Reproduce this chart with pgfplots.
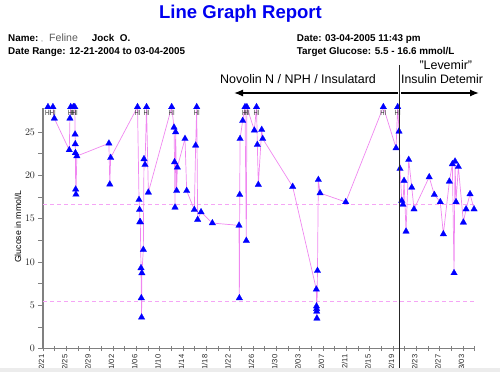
\documentclass[border=0pt]{standalone}
\usepackage{fontspec}
\setmainfont{Liberation Sans}
\newfontfamily\narrowfont[FakeStretch=0.78]{Liberation Sans}
\usepackage{pgfplots}
\usepackage{pgfplotstable}
\pgfplotsset{compat=1.18}
\usetikzlibrary{arrows.meta}
\definecolor{lineviolet}{RGB}{240,135,240}
\definecolor{dashpink}{RGB}{245,165,245}
\definecolor{axisgray}{RGB}{128,128,128}
\definecolor{markblue}{RGB}{0,0,255}
\definecolor{titleblue}{RGB}{0,0,240}
\definecolor{stripgray}{RGB}{236,236,236}

\pgfplotstableread{
day val
0.85 27.9
1.70 27.9
1.94 26.58
4.50 22.93
4.62 26.58
4.75 27.9
5.20 27.9
5.45 27.9
5.50 24.74
5.53 23.62
5.56 22.60
5.60 18.39
5.65 17.80
5.80 22.23
11.30 23.70
11.45 18.97
11.60 22.04
16.20 27.9
16.46 17.19
16.55 16.04
16.60 14.62
16.68 14.62
16.80 9.31
16.85 5.85
16.90 3.62
16.95 8.73
17.20 11.43
17.31 21.89
17.49 21.23
17.75 27.9
18.06 18.04
22.06 27.9
22.46 25.54
22.55 21.54
22.63 16.31
22.74 25.00
22.91 18.23
23.03 20.93
24.34 24.23
24.63 18.23
25.94 16.04
26.17 23.46
26.35 27.9
26.51 14.89
27.09 15.77
29.03 14.50
33.60 14.23
33.66 5.85
33.72 17.77
33.78 24.23
34.23 26.31
34.63 27.9
34.85 12.47
34.95 27.9
36.23 25.20
36.60 27.9
36.74 23.54
36.91 18.93
37.49 25.27
37.66 24.23
42.80 18.70
46.85 6.85
46.88 4.90
46.90 4.60
46.92 4.30
46.95 3.50
47.05 9.00
47.20 19.50
47.49 17.96
51.90 16.93
58.34 27.9
60.52 23.16
60.80 27.9
61.03 25.08
61.20 20.77
61.50 17.09
61.70 16.63
61.89 19.39
62.23 13.54
62.69 21.81
63.21 18.61
63.60 16.10
66.20 19.81
67.08 17.77
68.10 16.93
68.63 13.23
69.66 19.31
70.17 21.31
70.46 8.74
70.63 21.62
70.80 16.93
71.20 21.00
72.06 14.58
72.52 16.10
73.20 17.85
73.89 16.10
}\glucosedata

\pgfplotstableread{
day val
0.85 27.9
1.70 27.9
4.75 27.9
5.20 27.9
5.45 27.9
16.20 27.9
17.75 27.9
22.06 27.9
26.35 27.9
34.63 27.9
34.95 27.9
36.60 27.9
58.34 27.9
60.80 27.9
}\hidata

\begin{document}
\begin{tikzpicture}
\path[use as bounding box] (0,0) rectangle (500bp,372bp);
\begin{axis}[
  at={(43bp,23.3bp)}, anchor=south west,
  scale only axis, width=431.7bp, height=240.9bp,
  xmin=0, xmax=74, ymin=0, ymax=27.8,
  clip=false,
  axis x line*=bottom, axis y line*=left,
  axis line style={axisgray, line width=1.2bp, -},
  xtick={0,4,...,72}, minor xtick={2,6,...,74},
  xticklabels={12/21,12/25,12/29,01/02,01/06,01/10,01/14,01/18,01/22,01/26,01/30,02/03,02/07,02/11,02/15,02/19,02/23,02/27,03/03},
  ytick={0,5,...,25}, minor ytick={2.5,7.5,...,22.5},
  tick align=center,
  major tick length=5bp, minor tick length=5bp,
  tick style={axisgray, line width=0.8bp},
  ytick style={xshift=-2.5bp},
  xticklabel style={font=\fontsize{7.6}{7.6}\selectfont, rotate=90, anchor=base east, text=black!85, yshift=-1bp},
  yticklabel style={font=\narrowfont\fontsize{9.6}{9.6}\selectfont, text=black!85, xshift=-2bp},
]
\addplot[dashpink, line width=0.9bp, dash pattern=on 4bp off 3bp, forget plot] coordinates {(0,16.6) (74,16.6)};
\addplot[dashpink, line width=0.9bp, dash pattern=on 4bp off 3bp, forget plot] coordinates {(0,5.5) (74,5.5)};
\addplot[draw=none, nodes near coords={HI},
  every node near coord/.style={font=\narrowfont\fontsize{7.6}{7.6}\selectfont, text=black!80, anchor=center, yshift=-6bp, inner sep=0pt}]
  table[x=day,y=val]{\hidata};
\addplot[lineviolet, line width=0.7bp, mark=triangle*, mark size=3.8bp,
  mark options={solid, fill=markblue, draw=markblue, line width=0.2bp}]
  table[x=day,y=val]{\glucosedata};
\end{axis}
% header
\node[anchor=base, inner sep=0, font=\bfseries\fontsize{18.6}{18.6}\selectfont, text=titleblue] at (240.5bp,353.7bp) {Line Graph Report};
\node[anchor=base west, inner sep=0, font=\bfseries\fontsize{9.9}{9.9}\selectfont] at (8bp,330.3bp) {Name:};
\node[anchor=base west, inner sep=0, font=\fontsize{7}{7}\selectfont, text=black!55] at (41bp,330.3bp) {,};
\node[anchor=base west, inner sep=0, font=\fontsize{10.6}{10.6}\selectfont, text=black!65] at (49bp,330.3bp) {Feline};
\node[anchor=base west, inner sep=0, font=\bfseries\fontsize{9.9}{9.9}\selectfont] at (91.7bp,330.3bp) {Jock\ \ O.};
\node[anchor=base west, inner sep=0, font=\bfseries\fontsize{9.9}{9.9}\selectfont] at (8bp,317.7bp) {Date Range: 12-21-2004 to 03-04-2005};
\node[anchor=base west, inner sep=0, font=\bfseries\fontsize{9.9}{9.9}\selectfont] at (296.7bp,330.3bp) {Date: 03-04-2005 11:43 pm};
\node[anchor=base west, inner sep=0, font=\bfseries\fontsize{9.9}{9.9}\selectfont] at (296.7bp,317.7bp) {Target Glucose: 5.5 - 16.6 mmol/L};
% annotations
\node[anchor=base west, inner sep=0, font=\fontsize{12.5}{12.5}\selectfont] at (220bp,288bp) {Novolin N / NPH / Insulatard};
\node[anchor=base, inner sep=0, font=\fontsize{12.5}{12.5}\selectfont] at (445.8bp,302bp) {"Levemir"};
\node[anchor=base west, inner sep=0, font=\fontsize{12.3}{12.3}\selectfont] at (401bp,288bp) {Insulin Detemir};
\draw[line width=1.3bp, -{Latex[length=9bp,width=7bp]}] (398bp,279bp) -- (234bp,279bp);
\draw[line width=1.3bp, -{Latex[length=9bp,width=7bp]}] (401bp,279bp) -- (479bp,279bp);
\draw[black!85, line width=1bp] (399.3bp,307bp) -- (399.3bp,4bp);
% y label
\node[rotate=90, inner sep=0, font=\fontsize{8.8}{8.8}\selectfont] at (18bp,145.3bp) {Glucose in mmol/L};
% bottom strip
\fill[stripgray] (0,0) rectangle (500bp,4bp);
\end{tikzpicture}
\end{document}
